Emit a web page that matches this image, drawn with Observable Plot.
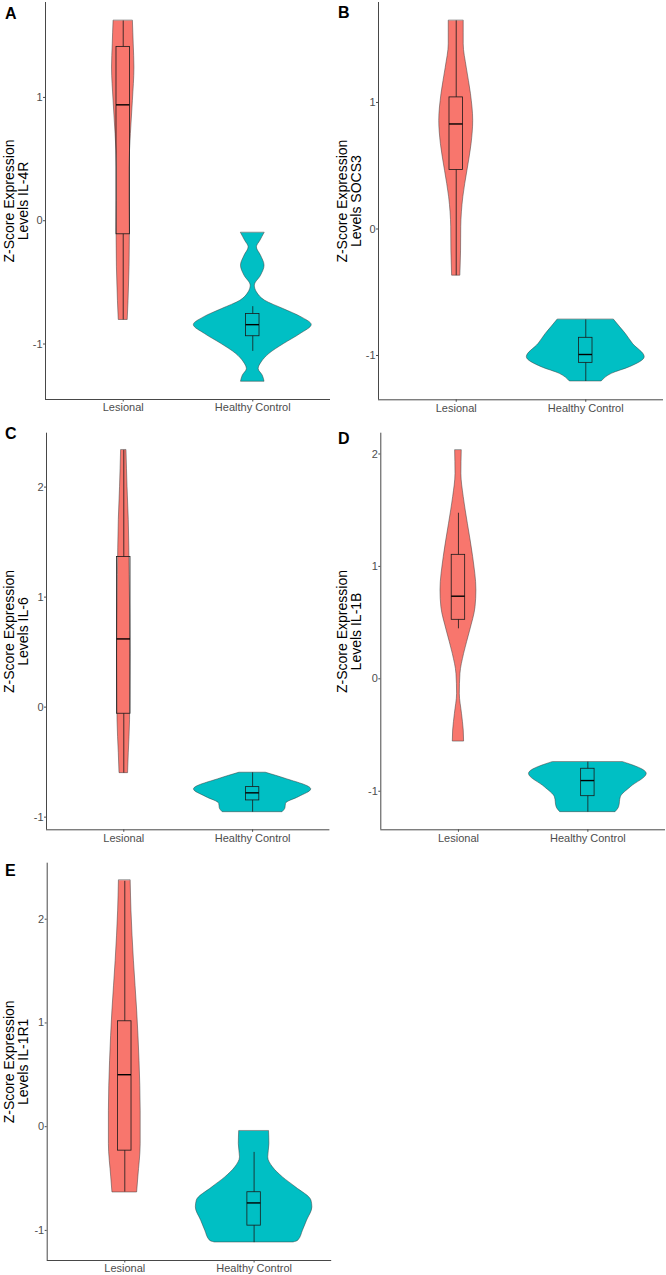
<!DOCTYPE html>
<html><head><meta charset="utf-8">
<script src="https://cdn.jsdelivr.net/npm/d3@7"></script>
<script src="https://cdn.jsdelivr.net/npm/@observablehq/plot@0.6"></script>
<style>
body{margin:0;background:#fff;font-family:"Liberation Sans",Arial,sans-serif;}
#wrap{position:relative;width:666px;height:1275px;overflow:hidden;}
.panel{position:absolute;}
.letter{position:absolute;font-weight:bold;font-size:16px;line-height:16px;color:#000;}
</style></head><body><div id="wrap"></div>
<script>
// ---------- data ----------
const categories = ["Lesional", "Healthy Control"];
const panelLetters = ["A", "B", "C", "D", "E"];
const genes = ["IL-4R", "SOCS3", "IL-6", "IL-1B", "IL-1R1"];
const yTicks = [[-1, 0, 1], [-1, 0, 1], [-1, 0, 1, 2], [-1, 0, 1, 2], [-1, 0, 1, 2]];
const yDomains = [[-1.45, 1.77], [-1.35, 1.79], [-1.115, 2.49], [-1.343, 2.185], [-1.29, 2.54]];

// violin density profiles: [z-score, relative density (1 = widest violin)]
const violinA_Lesional = [[1.62,0.164],[1.43,0.178],[1.243,0.19],[0.973,0.164],[0.703,0.13],[0.432,0.107],[0.162,0.107],[-0.108,0.113],[-0.378,0.107],[-0.649,0.09],[-0.805,0.076]];
const violinA_Healthy = [[-0.10,0.20],[-0.162,0.13],[-0.216,0.07],[-0.284,0.14],[-0.365,0.20],[-0.446,0.14],[-0.527,0.035],[-0.581,0.07],[-0.649,0.21],[-0.716,0.52],[-0.784,0.83],[-0.846,1.0],[-0.919,0.81],[-1.0,0.53],[-1.081,0.28],[-1.149,0.15],[-1.203,0.10],[-1.257,0.17],[-1.306,0.20]];
const violinB_Lesional = [[1.644,0.127],[1.46,0.127],[1.275,0.178],[1.066,0.25],[0.855,0.288],[0.67,0.26],[0.46,0.19],[0.25,0.12],[0.013,0.085],[-0.171,0.082],[-0.369,0.07]];
const violinB_Healthy = [[-0.718,0.48],[-0.777,0.585],[-0.83,0.68],[-0.908,0.8],[-1.013,1.0],[-1.092,0.75],[-1.145,0.44],[-1.205,0.27]];
const violinC_Lesional = [[2.334,0.046],[2.0,0.064],[1.70,0.085],[1.2,0.1],[0.485,0.113],[-0.12,0.107],[-0.42,0.085],[-0.6,0.073]];
const violinC_Healthy = [[-0.597,0.23],[-0.651,0.56],[-0.748,1.0],[-0.818,0.79],[-0.878,0.57],[-0.92,0.56],[-0.955,0.51]];
const violinD_Lesional = [[2.031,0.056],[1.824,0.05],[1.616,0.09],[1.379,0.16],[1.082,0.25],[0.786,0.305],[0.637,0.29],[0.43,0.2],[0.222,0.096],[0.044,0.034],[-0.133,0.023],[-0.311,0.06],[-0.46,0.09],[-0.558,0.096]];
const violinD_Healthy = [[-0.741,0.6],[-0.845,1.0],[-0.964,0.73],[-1.053,0.56],[-1.142,0.53],[-1.186,0.47]];
const violinE_Lesional = [[2.372,0.1],[2.083,0.113],[1.6,0.155],[1.119,0.21],[0.636,0.25],[0.154,0.27],[-0.167,0.27],[-0.489,0.23],[-0.634,0.21]];
const violinE_Healthy = [[-0.045,0.254],[-0.167,0.26],[-0.296,0.24],[-0.392,0.32],[-0.489,0.49],[-0.585,0.71],[-0.714,0.975],[-0.778,0.99],[-0.906,0.9],[-1.003,0.83],[-1.099,0.75],[-1.116,0.67]];

// boxplot stats: [lower whisker, Q1, median, Q3, upper whisker] for Lesional, Healthy Control
const boxA = [[-0.805,-0.11,0.94,1.41,1.62],[-1.06,-0.937,-0.843,-0.757,-0.697]];
const boxB = [[-0.369,0.466,0.83,1.04,1.645],[-1.205,-1.058,-0.992,-0.86,-0.718]];
const boxC = [[-0.6,-0.06,0.62,1.364,2.334],[-0.955,-0.848,-0.779,-0.727,-0.597]];
const boxD = [[0.445,0.525,0.735,1.103,1.473],[-1.186,-1.044,-0.905,-0.80,-0.741]];
const boxE = [[-0.63,-0.231,0.501,1.016,2.365],[-1.118,-0.954,-0.735,-0.632,-0.248]];

const violins = [[violinA_Lesional, violinA_Healthy],[violinB_Lesional, violinB_Healthy],[violinC_Lesional, violinC_Healthy],[violinD_Lesional, violinD_Healthy],[violinE_Lesional, violinE_Healthy]];
const boxes = [boxA, boxB, boxC, boxD, boxE];

// ---------- layout & style ----------
const fills = ["#F8766D", "#00BFC4"];
const maxHalfWidth = 0.455;
const boxHalf = 0.052;
const layout = [
  {left: 0,   top: 0,   width: 333, height: 420, mL: 45,   mR: 3,   mT: 2,    mB: 21,   letterTop: 8},
  {left: 333, top: 0,   width: 333, height: 420, mL: 45,   mR: 3,   mT: 2,    mB: 20.7, letterTop: 7},
  {left: 0,   top: 420, width: 333, height: 424, mL: 46,   mR: 3.6, mT: 12.7, mB: 14.7, letterTop: 7.5},
  {left: 333, top: 420, width: 333, height: 424, mL: 47.3, mR: 1,   mT: 12.7, mB: 14.7, letterTop: 12.5},
  {left: 0,   top: 844, width: 333, height: 431, mL: 46.7, mR: 1.8, mT: 18.7, mB: 15,   letterTop: 21}
];
const fontFamily = "'Liberation Sans', Arial, sans-serif";
const wrap = document.getElementById("wrap");

panelLetters.forEach((letter, i) => {
  const L = layout[i];
  const violinRows = [];
  violins[i].forEach((profile, g) => {
    profile.forEach(([v, d]) => violinRows.push({g, c: g + 1, v, h: d * maxHalfWidth}));
  });
  const boxRows = boxes[i].map(([lo, q1, med, q3, hi], g) => ({g, c: g + 1, lo, q1, med, q3, hi}));

  const chart = Plot.plot({
    width: L.width,
    height: L.height,
    marginLeft: L.mL,
    marginRight: L.mR,
    marginTop: L.mT,
    marginBottom: L.mB,
    style: {fontFamily, fontSize: "11px", background: "transparent", overflow: "visible"},
    x: {domain: [0.4, 2.6]},
    y: {domain: yDomains[i]},
    marks: [
      Plot.areaX(violinRows, {
        x1: d => d.c - d.h, x2: d => d.c + d.h, y: "v", z: "g",
        fill: d => fills[d.g], stroke: "#3b3b3b", strokeWidth: 0.5, curve: "monotone-y"
      }),
      Plot.ruleX(boxRows, {x: "c", y1: "q3", y2: "hi", stroke: "#1a1a1a", strokeWidth: 0.8}),
      Plot.ruleX(boxRows, {x: "c", y1: "lo", y2: "q1", stroke: "#1a1a1a", strokeWidth: 0.8}),
      Plot.rect(boxRows, {x1: d => d.c - boxHalf, x2: d => d.c + boxHalf, y1: "q1", y2: "q3", fill: "none", stroke: "#1a1a1a", strokeWidth: 0.8}),
      Plot.ruleY(boxRows, {y: "med", x1: d => d.c - boxHalf, x2: d => d.c + boxHalf, stroke: "#000", strokeWidth: 1.4}),
      Plot.ruleX([0.4], {stroke: "#333", strokeWidth: 0.9}),
      Plot.ruleY([yDomains[i][0]], {stroke: "#333", strokeWidth: 0.9}),
      Plot.axisX({ticks: [1, 2], tickFormat: d => categories[d - 1], tickSize: 2.5, tickPadding: 1.5, label: null, color: "#4d4d4d", fontSize: 11}),
      Plot.axisY({ticks: yTicks[i], tickFormat: d => String(d), tickSize: 2, tickPadding: 1, label: null, color: "#4d4d4d", fontSize: 11}),
      Plot.text([`Z-Score Expression\nLevels ${genes[i]}`], {
        frameAnchor: "left", text: d => d, rotate: -90, dx: 16.5 - L.mL,
        lineAnchor: "middle", textAnchor: "middle", fontSize: 14, fill: "#000"
      })
    ]
  });
  const div = document.createElement("div");
  div.className = "panel";
  div.style.left = L.left + "px";
  div.style.top = L.top + "px";
  div.appendChild(chart);
  wrap.appendChild(div);

  const lt = document.createElement("div");
  lt.className = "letter";
  lt.textContent = letter;
  lt.style.left = (L.left + 5) + "px";
  lt.style.top = (L.top + L.letterTop - 2) + "px";
  wrap.appendChild(lt);
});
</script></body></html>
